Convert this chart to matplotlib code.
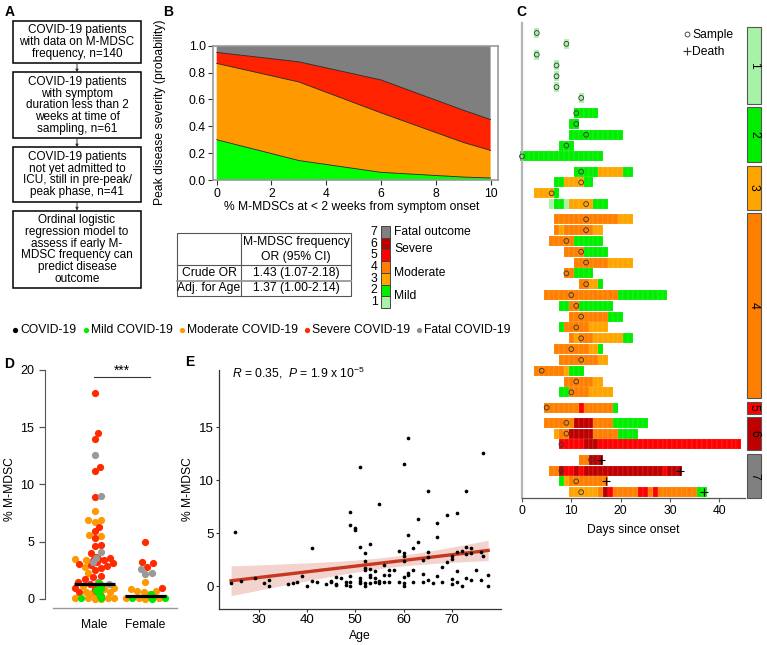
import matplotlib
matplotlib.use('Agg')
import matplotlib.pyplot as plt
import numpy as np
from matplotlib.patches import Rectangle

plt.rcParams['font.family'] = ['Liberation Sans', 'DejaVu Sans']
plt.rcParams['mathtext.fontset'] = 'custom'
plt.rcParams['mathtext.rm'] = 'Liberation Sans'
plt.rcParams['mathtext.it'] = 'Liberation Sans:italic'

# ---------------- DATA ----------------
# Panel A
flow_boxes = [
    ["COVID-19 patients", "with data on M-MDSC", "frequency, n=140"],
    ["COVID-19 patients", "with symptom", "duration less than 2", "weeks at time of", "sampling, n=61"],
    ["COVID-19 patients", "not yet admitted to", "ICU, still in pre-peak/", "peak phase, n=41"],
    ["Ordinal logistic", "regression model to", "assess if early M-", "MDSC frequency can", "predict disease", "outcome"],
]

# Panel B: predicted probability of each peak severity vs % M-MDSC
b_x = [0, 3, 6, 9, 10]
b_mild = [0.30, 0.145, 0.057, 0.022, 0.015]
b_moderate = [0.568, 0.585, 0.443, 0.258, 0.205]
b_severe = [0.082, 0.150, 0.245, 0.240, 0.230]
b_fatal = [0.050, 0.120, 0.255, 0.480, 0.550]
b_xticks = [0, 2, 4, 6, 8, 10]
b_yticks = [0.0, 0.2, 0.4, 0.6, 0.8, 1.0]
table_header = ["M-MDSC frequency", "OR (95% CI)"]
table_rows = [("Crude OR", "1.43 (1.07-2.18)"), ("Adj. for Age", "1.37 (1.00-2.14)")]
sev_levels = [7, 6, 5, 4, 3, 2, 1]
sev_colors = {1: '#A8F2A8', 2: '#00EE00', 3: '#FFA500', 4: '#FF8000',
              5: '#FF0000', 6: '#BF0000', 7: '#808080'}
sev_names = [("Fatal outcome", 7, 7), ("Severe", 6, 5), ("Moderate", 4, 3), ("Mild", 2, 1)]

# Legend row
legend_items = [("COVID-19", '#000000'), ("Mild COVID-19", '#00EE00'),
                ("Moderate COVID-19", '#FF9900'), ("Severe COVID-19", '#FF2A00'),
                ("Fatal COVID-19", '#8F8F8F')]

# Panel C: per patient (group, sample day, death day, [(first day, last day, level)])
c_rows = [
    (1, 3, None, [(3, 3, 1)]),
    (1, 9, None, [(9, 9, 1)]),
    (1, 3, None, [(3, 3, 1)]),
    (1, 7, None, [(7, 7, 1)]),
    (1, 7, None, [(7, 7, 1)]),
    (1, 7, None, [(7, 7, 1)]),
    (1, 12, None, [(12, 12, 1)]),
    (2, 11, None, [(11, 15, 2)]),
    (2, 11, None, [(10, 11, 2)]),
    (2, 13, None, [(10, 20, 2)]),
    (2, 9, None, [(8, 10, 2)]),
    (2, 0, None, [(0, 16, 2)]),
    (3, 12, None, [(11, 15, 2), (16, 20, 3), (21, 22, 2)]),
    (3, 12, None, [(7, 8, 2), (9, 12, 3), (13, 14, 2)]),
    (3, 6, None, [(3, 6, 3), (7, 7, 2)]),
    (3, 13, None, [(6, 6, 1), (7, 8, 2), (9, 9, 1), (10, 14, 3), (15, 17, 2)]),
    (4, 13, None, [(7, 19, 4), (20, 22, 3)]),
    (4, 13, None, [(7, 7, 4), (8, 8, 3), (9, 14, 4), (15, 16, 3)]),
    (4, 9, None, [(6, 10, 4), (11, 16, 2)]),
    (4, 12, None, [(9, 12, 4), (13, 17, 2)]),
    (4, 13, None, [(11, 17, 4), (18, 22, 3)]),
    (4, 9, None, [(9, 10, 4), (11, 14, 2)]),
    (4, 13, None, [(12, 13, 4), (14, 15, 3), (16, 16, 2)]),
    (4, 10, None, [(5, 19, 4), (20, 29, 2)]),
    (4, 11, None, [(8, 9, 2), (10, 11, 4), (12, 18, 2)]),
    (4, 12, None, [(10, 17, 4), (18, 20, 2)]),
    (4, 11, None, [(8, 8, 2), (9, 13, 4), (14, 17, 3)]),
    (4, 12, None, [(10, 10, 4), (11, 11, 3), (12, 14, 4), (15, 20, 3), (21, 22, 2)]),
    (4, 10, None, [(7, 13, 4), (14, 15, 3), (16, 16, 2)]),
    (4, 12, None, [(8, 15, 4), (16, 17, 3)]),
    (4, 4, None, [(3, 8, 4), (9, 9, 3), (10, 12, 2)]),
    (4, 11, None, [(9, 14, 4), (15, 16, 3)]),
    (4, 10, None, [(8, 9, 2), (10, 13, 4), (14, 18, 3)]),
    (5, 5, None, [(5, 11, 4), (12, 12, 5), (13, 18, 4), (19, 19, 2)]),
    (6, 9, None, [(5, 10, 4), (11, 14, 6), (15, 18, 4), (19, 25, 2)]),
    (6, 9, None, [(7, 7, 3), (8, 9, 4), (10, 14, 6), (15, 19, 4), (20, 23, 2)]),
    (6, 8, None, [(8, 12, 5), (13, 15, 6), (16, 44, 5)]),
    (7, 14, 16, [(12, 13, 4), (14, 16, 6)]),
    (7, 8, 32, [(6, 7, 4), (8, 8, 6), (9, 10, 5), (11, 11, 6), (12, 12, 5), (13, 28, 6), (29, 29, 5), (30, 32, 6)]),
    (7, 11, 17, [(8, 8, 2), (9, 9, 3), (10, 17, 4)]),
    (7, 12, 37, [(10, 15, 3), (16, 16, 4), (17, 17, 6), (18, 18, 5), (19, 23, 4), (24, 25, 5), (26, 26, 4), (27, 27, 5), (28, 35, 4), (36, 37, 2)]),
]
c_xticks = [0, 10, 20, 30, 40]

# Panel D: % M-MDSC by sex and severity
d_male = {
    'severe': [18.0, 14.5, 14.0, 11.5, 11.2, 8.9, 6.3, 5.9, 5.3, 4.7, 4.6, 4.0, 3.7, 3.6, 3.55, 3.5,
               3.5, 3.45, 3.4, 3.35, 3.3, 3.25, 3.2, 3.1, 3.05, 3.0, 2.9, 2.7, 2.5, 2.0, 1.9, 1.7,
               1.5, 1.3, 1.0, 0.9, 0.8, 0.7, 0.6, 0.5, 0.35, 0.2, 1.1, 0.15],
    'fatal': [12.6, 9.0, 4.1, 3.6, 3.2, 1.5, 1.3],
    'moderate': [7.7, 6.9, 6.9, 6.7, 5.6, 5.5, 3.5, 3.4, 2.8, 2.3, 1.4, 1.2, 1.05, 1.0, 0.95, 0.9, 0.85,
                 0.8, 0.75, 0.7, 0.65, 0.6, 0.55, 0.5, 0.45, 0.4, 0.35, 0.3, 0.25, 0.2, 0.15, 0.1, 0.05,
                 0.0, 0.9, 0.6, 0.3, 0.1, 0.0, 1.1, 0.8, 0.5, 0.2, 0.05],
    'mild': [1.4, 1.0, 0.75, 0.6, 0.5, 0.3, 0.2, 0.1, 0.05],
}
d_female = {
    'severe': [5.0, 3.2, 3.1, 2.8, 0.95, 0.2],
    'fatal': [2.6, 2.3, 2.2],
    'moderate': [1.5, 0.85, 0.7, 0.7, 0.6, 0.45, 0.35, 0.3, 0.2, 0.2, 0.15, 0.1, 0.05, 0.0, 0.05],
    'mild': [0.4, 0.35, 0.3, 0.25, 0.2, 0.2, 0.15, 0.1, 0.1, 0.05, 0.0, 0.15, 0.05, 0.1],
}
d_groups = ["Male", "Female"]
d_yticks = [0, 5, 10, 15, 20]
d_colors = {'moderate': '#FF9900', 'severe': '#FF2A00', 'fatal': '#999999', 'mild': '#00E600'}

# Panel E: age vs % M-MDSC
e_age = [24.3, 25.2, 26.3, 29.2, 31.2, 32.2, 32.2, 36.1, 37.1, 38, 39, 40.1, 41, 41.1, 42, 44, 45, 45,
         46, 46, 46, 47, 48, 48, 49, 49, 49, 49, 49, 50, 50, 51, 51, 51, 51, 51, 52, 52, 52, 52, 52, 52,
         53, 53, 53, 53, 53, 54, 54, 54, 55, 55, 55, 56, 56, 56, 57, 57, 57, 58, 59, 59, 60, 60, 60, 60,
         60, 60, 60, 61, 61, 61, 61, 62, 62, 62, 63, 63, 64, 64, 64, 65, 65, 65, 65, 66, 67, 67, 67, 68,
         68, 69, 69, 70, 70, 70, 70, 71, 71, 71, 71, 72, 72, 73, 73, 73, 73, 74, 74, 74, 75, 76, 76,
         76.5, 76.5, 77.5, 77.5]
e_mdsc = [0.31, 5.09, 0.47, 0.79, 0.31, 0.57, 0.03, 0.16, 0.25, 0.35, 0.91, 0.03, 3.55, 0.50, 0.35,
          0.16, 0.35, 0.47, 0.85, 0.22, 0.09, 0.75, 0.35, 0.09, 6.95, 5.72, 0.91, 0.38, 0.03, 5.50, 5.28,
          11.2, 3.65, 0.75, 0.47, 0.25, 3.14, 2.39, 1.70, 1.50, 0.25, 0.03, 4.00, 1.57, 1.04, 0.82, 0.25,
          1.38, 0.79, 0.35, 7.70, 0.50, 0.25, 1.98, 1.04, 0.35, 1.50, 1.07, 0.35, 1.50, 3.27, 0.35, 11.5,
          3.08, 2.86, 2.39, 0.88, 0.25, 0.03, 14.0, 4.78, 1.19, 1.0, 3.55, 1.50, 0.35, 6.32, 4.18, 2.45,
          1.10, 0.35, 9.00, 3.24, 2.70, 0.57, 0.25, 5.94, 4.65, 0.94, 1.76, 0.38, 6.70, 2.30, 2.60, 2.80,
          0.63, 0.16, 6.92, 3.24, 1.45, 0.41, 3.33, 0.03, 8.96, 3.70, 3.00, 0.72, 3.60, 3.14, 0.57, 1.50,
          3.20, 0.53, 12.6, 2.86, 1.07, 0.03]
e_xticks = [30, 40, 50, 60, 70]
e_yticks = [0, 5, 10, 15]

# ---------------- FIGURE ----------------
W, H = 767, 645
fig = plt.figure(figsize=(W / 100, H / 100), dpi=100)
FS = 8.7


def px_axes(l, t, r, b, **kw):
    return fig.add_axes([l / W, 1 - b / H, (r - l) / W, (b - t) / H], **kw)


ov = fig.add_axes([0, 0, 1, 1], zorder=10)
ov.set_xlim(0, W)
ov.set_ylim(H, 0)
ov.axis('off')

# panel letters
for lab, x, y in [("A", 5, 12), ("B", 163, 12), ("C", 516, 12), ("D", 4, 364), ("E", 185, 362)]:
    ov.text(x, y, lab, fontsize=10, fontweight='bold', ha='left', va='center')

# ---- Panel A ----
top = 21
lh = 11.8
bx0, bx1 = 13, 141
for i, lines in enumerate(flow_boxes):
    h = len(lines) * lh + 7
    ov.add_patch(Rectangle((bx0, top), bx1 - bx0, h, fill=False, ec='k', lw=1.1))
    for j, ln in enumerate(lines):
        ov.text((bx0 + bx1) / 2, top + 3.5 + lh * (j + 0.5), ln, ha='center', va='center', fontsize=8.5)
    bottom = top + h
    if i < len(flow_boxes) - 1:
        nxt = bottom + 9
        ov.annotate('', xy=((bx0 + bx1) / 2, nxt), xytext=((bx0 + bx1) / 2, bottom),
                    arrowprops=dict(arrowstyle='-|>', lw=0.7, color='#333', mutation_scale=4,
                                    shrinkA=0, shrinkB=0))
        top = nxt

# ---- Panel B ----
axB = px_axes(213.3, 45.7, 497.7, 180)
axB.stackplot(b_x, b_mild, b_moderate, b_severe, b_fatal,
              colors=['#00FF00', '#FF9900', '#FF2200', '#7F7F7F'], lw=0)
cum = np.cumsum([b_mild, b_moderate, b_severe], axis=0)
for c in cum:
    axB.plot(b_x, c, color='#222', lw=0.6)
axB.set_xlim(-0.124, 10.26)
axB.set_ylim(0, 1)
axB.set_xticks(b_xticks)
axB.set_yticks(b_yticks)
axB.set_yticklabels([f"{v:.1f}" for v in b_yticks])
axB.tick_params(labelsize=FS, length=3.5, width=0.8, color='#333', pad=2)
for s in axB.spines.values():
    s.set_color('#999999')
    s.set_linewidth(1.2)
ov.text(160, 112, "Peak disease severity (probability)", rotation=90, ha='center', va='center', fontsize=FS)
ov.text(352, 207, "% M-MDSCs at < 2 weeks from symptom onset", ha='center', va='center', fontsize=FS)

# table
tl, tr, tt, tb, tc = 177, 351, 233, 296, 241
ov.add_patch(Rectangle((tl, tt), tr - tl, tb - tt, fill=False, ec='#555', lw=0.8))
ov.plot([tc, tc], [tt, tb], color='#555', lw=0.8)
ov.plot([tl, tr], [265, 265], color='#555', lw=0.8)
ov.plot([tl, tr], [280.5, 280.5], color='#999', lw=1.3)
ov.text((tc + tr) / 2, 242, table_header[0], ha='center', va='center', fontsize=FS)
ov.text((tc + tr) / 2, 257, table_header[1], ha='center', va='center', fontsize=FS)
for k, (a, b) in enumerate(table_rows):
    yy = 273 + 15 * k
    ov.text((tl + tc) / 2, yy, a, ha='center', va='center', fontsize=FS)
    ov.text((tc + tr) / 2, yy, b, ha='center', va='center', fontsize=FS)

# severity colour key
kx0, kx1, ky0, kh = 381, 390, 226, 11.7
for k, lv in enumerate(sev_levels):
    y0 = ky0 + k * kh
    ov.add_patch(Rectangle((kx0, y0), kx1 - kx0, kh, fc=sev_colors[lv], ec='#444', lw=0.7))
    ov.text(374, y0 + kh / 2, str(lv), ha='center', va='center', fontsize=FS)
for name, a, b in sev_names:
    ia, ib = sev_levels.index(a), sev_levels.index(b)
    yy = ky0 + kh * (ia + ib + 1) / 2
    ov.text(394, yy, name, ha='left', va='center', fontsize=FS)

# ---- legend row ----
lx = [15, 85.7, 182.3, 307, 419]
for (name, col), x in zip(legend_items, lx):
    ov.plot([x], [330], 'o', ms=3.8, color=col, mec='none')
    ov.text(x + 5, 330, name, ha='left', va='center', fontsize=FS)

# ---- Panel C ----
axC = px_axes(522, 23, 745, 498)
c_xmax = (745 - 522) / 4.93
axC.set_xlim(0, c_xmax)
gap = 0.41
ys = []
for k, (g, sd, dd, segs) in enumerate(c_rows):
    y = k + (g - 1) * gap
    ys.append(y)
    for (d0, d1, lv) in segs:
        for d in range(d0, d1 + 1):
            axC.add_patch(Rectangle((d - 0.5, y - 0.46), 1, 0.92, fc=sev_colors[lv],
                                    ec=(1, 1, 1, 0.25), lw=0.3, clip_on=False, zorder=2))
ys = np.array(ys)
axC.scatter([r[1] for r in c_rows], ys, s=12, facecolors='none', edgecolors='#333',
            linewidths=0.6, zorder=5, clip_on=False)
dmask = [r[2] is not None for r in c_rows]
axC.scatter([r[2] for r in c_rows if r[2] is not None], ys[dmask], marker='+', s=36,
            c='k', linewidths=0.8, zorder=6)
axC.set_ylim(43.0, -0.925)
groups = sorted(set(r[0] for r in c_rows))
for g in groups:
    gy = ys[[r[0] == g for r in c_rows]]
    y0, y1 = gy.min() - 0.55, gy.max() + 0.55
    axC.add_patch(Rectangle((45.6, y0), 2.9, y1 - y0, fc=sev_colors[g], ec='#555', lw=0.8,
                            clip_on=False, zorder=3))
    axC.text(47.05, (y0 + y1) / 2, str(g), rotation=-90, ha='center', va='center', fontsize=FS,
             clip_on=False)
axC.set_xticks(c_xticks)
axC.set_yticks([])
axC.tick_params(axis='x', labelsize=FS, length=3, width=0.8, color='#555', pad=2)
axC.spines['top'].set_visible(False)
axC.spines['right'].set_visible(False)
axC.spines['left'].set_color('#B5B5B5')
axC.spines['left'].set_linewidth(1.6)
axC.spines['bottom'].set_color('#555')
axC.spines['bottom'].set_linewidth(0.9)
axC.patch.set_alpha(0)
axC.set_xlabel("Days since onset", fontsize=FS, labelpad=5)
ov.plot([687], [34], 'o', ms=3.5, mfc='none', mec='#333', mew=0.6)
ov.text(692, 35, "Sample", ha='left', va='center', fontsize=FS)
ov.plot([687], [51], '+', ms=6, color='#333', mew=0.8)
ov.text(692, 52, "Death", ha='left', va='center', fontsize=FS)

# ---- Panel D ----
axD = px_axes(53, 370, 177, 608)
PXX, PXY = 51.0, 11.45


def swarm_offsets(vals, diam=6.6, maxw=20.0):
    vals = np.asarray(vals, float)
    ypx = vals * PXY
    order = np.argsort(ypx, kind='stable')
    xs = np.zeros(len(vals))
    px_l, py_l = [], []
    for i in order:
        y = ypx[i]
        cands = [0.0]
        for a, b in zip(px_l, py_l):
            dy = y - b
            if abs(dy) < diam:
                dx = np.sqrt(diam ** 2 - dy ** 2)
                cands += [a + dx, a - dx]
        good = []
        for c in cands:
            if all((c - a) ** 2 + (y - b) ** 2 >= diam ** 2 - 1e-6 for a, b in zip(px_l, py_l)):
                good.append(c)
        best = min(good, key=abs)
        if abs(best) > maxw:
            best = np.sign(best) * (abs(best) % maxw)
        xs[i] = best
        px_l.append(best)
        py_l.append(y)
    return xs / PXX


order_draw = ['moderate', 'severe', 'fatal', 'mild']
zo = {'moderate': 3, 'severe': 4, 'fatal': 4, 'mild': 5}
for gi, data in enumerate([d_male, d_female]):
    cats = []
    vals = []
    for cat in ['moderate', 'severe', 'fatal', 'mild']:
        cats += [cat] * len(data[cat])
        vals += data[cat]
    vals = np.array(vals)
    cats = np.array(cats)
    offs = swarm_offsets(vals)
    xc = gi + 1
    for cat in order_draw:
        m = cats == cat
        axD.scatter(xc + offs[m], vals[m], s=27, color=d_colors[cat], lw=0, zorder=zo[cat],
                    clip_on=False)
    med = np.median(vals)
    axD.plot([xc - 0.4, xc + 0.4], [med, med], color='k', lw=2.3, zorder=7, solid_capstyle='butt')
axD.set_xlim(0.186, 2.618)
axD.set_ylim(-0.79, 20)
axD.set_xticks([1, 2])
axD.set_xticklabels(d_groups)
axD.set_yticks(d_yticks)
axD.tick_params(axis='x', length=0, pad=8, labelsize=FS)
axD.tick_params(axis='y', length=4, width=0.9, color='#555', labelsize=9)
axD.spines['top'].set_visible(False)
axD.spines['right'].set_visible(False)
axD.spines['left'].set_position(('outward', 6))
axD.spines['left'].set_bounds(0, 20)
axD.spines['left'].set_color('#555')
axD.spines['bottom'].set_color('#999')
axD.spines['bottom'].set_linewidth(1.0)
axD.patch.set_alpha(0)
axD.plot([0.99, 2.09], [19.35, 19.35], color='#333', lw=0.8, clip_on=False)
axD.text(1.54, 19.35, "***", ha='center', va='bottom', fontsize=10)
axD.set_ylabel("% M-MDSC", fontsize=FS, labelpad=3)

# ---- Panel E ----
axE = px_axes(219, 370, 500.7, 608.7)
ea = np.array(e_age)
em = np.array(e_mdsc)
coef = np.polyfit(ea, em, 1)
xx = np.linspace(ea.min(), ea.max(), 100)
yy = np.polyval(coef, xx)
n = len(ea)
resid = em - np.polyval(coef, ea)
s_err = np.sqrt(np.sum(resid ** 2) / (n - 2))
se = s_err * np.sqrt(1 / n + (xx - ea.mean()) ** 2 / np.sum((ea - ea.mean()) ** 2))
axE.fill_between(xx, yy - 1.98 * se, yy + 1.98 * se, color='#F2D3CE', lw=0, zorder=1)
axE.plot(xx, yy, color='#C8381F', lw=2.4, zorder=3)
axE.scatter(ea, em, s=7, color='k', lw=0, zorder=4)
axE.set_xlim(21.8, 80.1)
axE.set_ylim(-2.14, 20.4)
axE.set_xticks(e_xticks)
axE.set_yticks(e_yticks)
axE.tick_params(length=2, width=0.8, color='#333', labelsize=9.5, pad=1.5)
axE.spines['top'].set_visible(False)
axE.spines['right'].set_visible(False)
for s in ['left', 'bottom']:
    axE.spines[s].set_color('#333')
    axE.spines[s].set_linewidth(0.9)
axE.patch.set_alpha(0)
axE.set_xlabel("Age", fontsize=FS, labelpad=3)
axE.set_ylabel("% M-MDSC", fontsize=FS, labelpad=4)
ov.text(232, 373, r"$\mathit{R}$ = 0.35,  $\mathit{P}$ = 1.9 x 10$^{-5}$", ha='left', va='center',
        fontsize=FS)

fig.savefig("out.png", dpi=100)
